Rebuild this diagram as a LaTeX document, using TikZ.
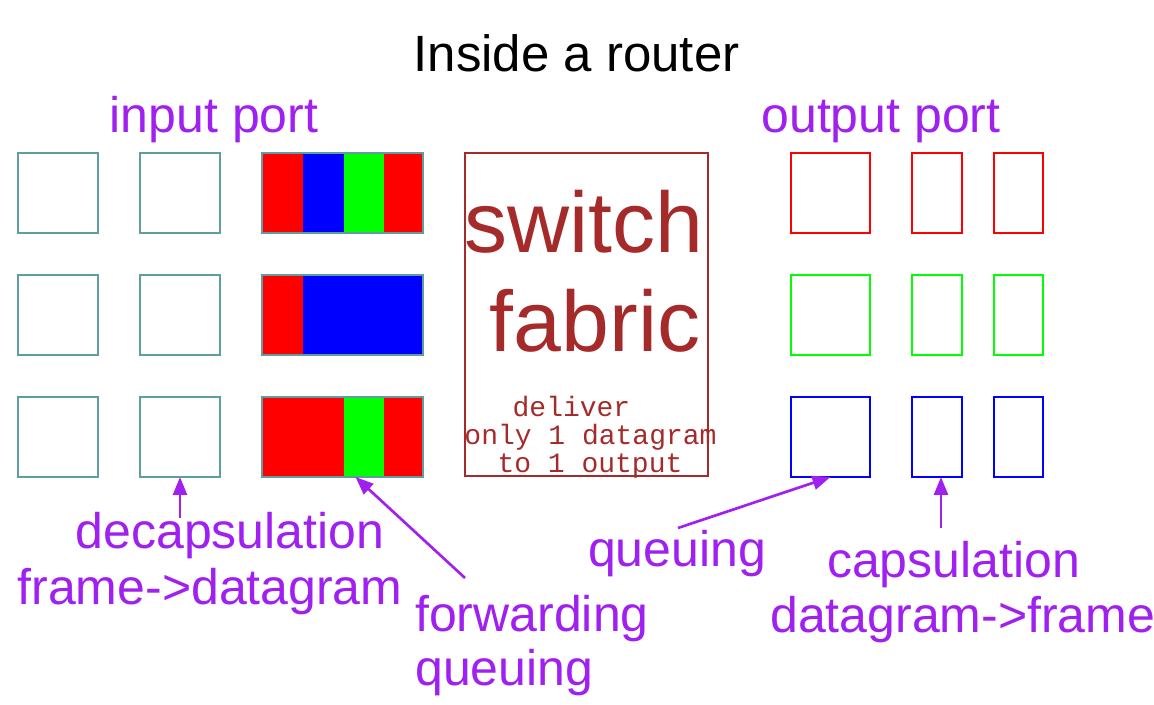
\documentclass[tikz,border=0pt]{standalone}
\usepackage{fontspec}
\setmainfont{Liberation Sans}
\setmonofont{Liberation Mono}
\usetikzlibrary{arrows.meta,calc}
\definecolor{pur}{HTML}{A020F0}
\definecolor{brn}{HTML}{A52A2A}
\definecolor{cadet}{HTML}{5F9EA0}
\definecolor{rd}{HTML}{FF0000}
\definecolor{bl}{HTML}{0000FF}
\definecolor{gr}{HTML}{00FF00}
\begin{document}
\begin{tikzpicture}[x=0.75pt,y=-0.75pt,
  box/.style={draw=#1,line width=1.5pt,inner sep=0pt,outer sep=0pt},
  inbox/.style={box=cadet,minimum width=60pt,minimum height=60pt},
  widebox/.style={box=cadet,minimum width=120.75pt,minimum height=60pt},
  oa/.style={box=#1,minimum width=59.25pt,minimum height=60pt},
  ob/.style={box=#1,minimum width=37.5pt,minimum height=60pt},
  oc/.style={box=#1,minimum width=36.75pt,minimum height=60pt},
  lab/.style={text=pur,font=\fontsize{37.5}{45}\selectfont,inner sep=0pt,anchor=base},
  big/.style={text=brn,font=\fontsize{64.5}{75}\selectfont,inner sep=0pt,anchor=base},
  mono/.style={text=brn,font=\ttfamily\fontsize{21}{28}\selectfont,inner sep=0pt,anchor=base},
  arr/.style={draw=pur,line width=2pt,-{Triangle[length=13.5pt,width=10.5pt]}}]
\useasboundingbox (0,0) rectangle (1154,705);

% title
\node[inner sep=0pt,anchor=base,font=\fontsize{38.25}{45}\selectfont] (title) at (576.5,72) {Inside a router};

% input port colour fills
\fill[rd] (261,152) rectangle (303,234);
\fill[bl] (303,152) rectangle (344,234);
\fill[gr] (344,152) rectangle (384,234);
\fill[rd] (384,152) rectangle (424,234);
\fill[rd] (261,274) rectangle (303,356);
\fill[bl] (303,274) rectangle (424,356);
\fill[rd] (261,396) rectangle (344,478);
\fill[gr] (344,396) rectangle (384,478);
\fill[rd] (384,396) rectangle (424,478);

% input boxes
\node[inbox] (i1a) at (58,193) {};
\node[inbox] (i2a) at (180,193) {};
\node[widebox] (i3a) at (342.5,193) {};
\node[inbox] (i1b) at (58,315) {};
\node[inbox] (i2b) at (180,315) {};
\node[widebox] (i3b) at (342.5,315) {};
\node[inbox] (i1c) at (58,437) {};
\node[inbox] (i2c) at (180,437) {};
\node[widebox] (i3c) at (342.5,437) {};

% switch fabric
\node[box=brn,minimum width=182.25pt,minimum height=242.25pt] (sw) at (586.5,314.5) {};
\node[big] (sw1) at (584,253) {switch};
\node[big] (sw2) at (595,352) {fabric};
\node[mono] (m1) at (571.5,417) {deliver};
\node[mono] (m2) at (590.5,445) {only 1 datagram};
\node[mono] (m3) at (590,473) {to 1 output};

% output boxes
\node[oa=rd] (o1a) at (830.5,193) {};
\node[ob=rd] (o2a) at (937,193) {};
\node[oc=rd] (o3a) at (1018.5,193) {};
\node[oa=gr] (o1b) at (830.5,315) {};
\node[ob=gr] (o2b) at (937,315) {};
\node[oc=gr] (o3b) at (1018.5,315) {};
\node[oa=bl] (o1c) at (830.5,437) {};
\node[ob=bl] (o2c) at (937,437) {};
\node[oc=bl] (o3c) at (1018.5,437) {};

% labels
\node[lab] (inport) at (214,133) {input port};
\node[lab] (outport) at (881,133) {output port};
\node[lab] (decap1) at (230,549) {decapsulation};
\node[lab] (decap2) at (210,605) {frame->datagram};
\node[lab,anchor=base west] (fwd1) at (415,632) {forwarding};
\node[lab,anchor=base west] (fwd2) at (415,686) {queuing};
\node[lab] (oq) at (677,567) {queuing};
\node[lab] (cap1) at (953.5,578) {capsulation};
\node[lab,anchor=base west] (cap2) at (770,633) {datagram->frame};

% arrows
\coordinate (t1) at (180,518);
\coordinate (t2) at (465,578);
\coordinate (t3) at (678,528);
\coordinate (t4) at (941,528);
\draw[arr] (t1) -- (i2c.south);
\draw[arr] (t2) -- ($(i3c.south)+(13,0)$);
\draw[arr] (t3) -- (o1c.south);
\draw[arr] (t4) -- ($(o2c.south)+(4,0)$);
\end{tikzpicture}
\end{document}
